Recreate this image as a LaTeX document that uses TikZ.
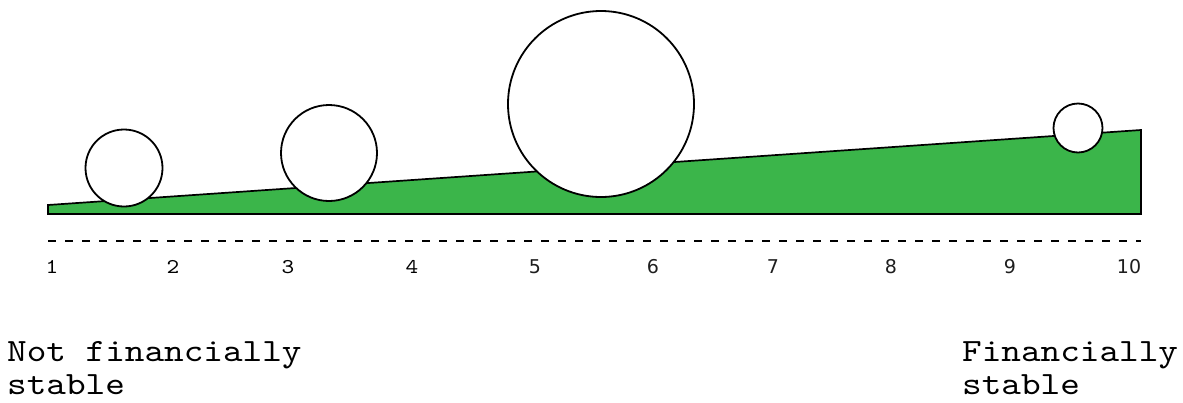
\documentclass[tikz,border=0pt]{standalone}
\usepackage{fontspec}
\newfontfamily\cour[FakeStretch=1.15]{lmmono10-regular.otf}
\newfontfamily\numsans{DejaVu Sans}
\definecolor{wedgegreen}{RGB}{59,181,74}
\definecolor{numgrey}{RGB}{30,30,30}
\begin{document}
\begin{tikzpicture}[x=1pt,y=-1pt,
  ball/.style={draw=black,fill=white,line width=1.8pt},
  numserif/.style={anchor=base,inner sep=0pt,font=\fontsize{21}{21}\selectfont\cour},
  numsansstyle/.style={anchor=base,inner sep=0pt,text=numgrey,font=\fontsize{19}{19}\selectfont\numsans},
  endlabel/.style={anchor=base west,inner sep=0pt,align=left,font=\fontsize{32.5}{33}\selectfont\cour}]
\useasboundingbox (0,0) rectangle (1183,402);
% wedge
\coordinate (wa) at (48,214);
\coordinate (wb) at (48,205);
\coordinate (wc) at (1141,130);
\coordinate (wd) at (1141,214);
\draw[fill=wedgegreen,line width=1.7pt,line join=miter] (wa) -- (wb) -- (wc) -- (wd) -- cycle;
% balls
\node[ball,circle,minimum size=77pt,inner sep=0pt] (b1) at (124,168) {};
\node[ball,circle,minimum size=96pt,inner sep=0pt] (b2) at (329,153) {};
\node[ball,circle,minimum size=186pt,inner sep=0pt] (b3) at (601,104) {};
\node[ball,circle,minimum size=49pt,inner sep=0pt] (b4) at (1078,128) {};
% dashed scale line
\coordinate (da) at (48,241);
\coordinate (db) at (1141,241);
\draw[line width=1.3pt,dash pattern=on 8pt off 9pt] (da) -- (db);
% numbers
\node[numserif] (n1) at (52,273) {1};
\node[numserif] (n2) at (173,273) {2};
\node[numserif] (n3) at (288,273) {3};
\node[numserif] (n4) at (412,273) {4};
\node[numsansstyle] (n5) at (535,273) {5};
\node[numsansstyle] (n6) at (653,273) {6};
\node[numsansstyle] (n7) at (773,273) {7};
\node[numsansstyle] (n8) at (891,273) {8};
\node[numsansstyle] (n9) at (1010,273) {9};
\node[numsansstyle] (n10) at (1129,273) {10};
% end labels
\node[endlabel] (lleft) at (7,394) {Not financially\\stable};
\node[endlabel] (lright) at (962,394) {Financially\\stable};
\end{tikzpicture}
\end{document}
